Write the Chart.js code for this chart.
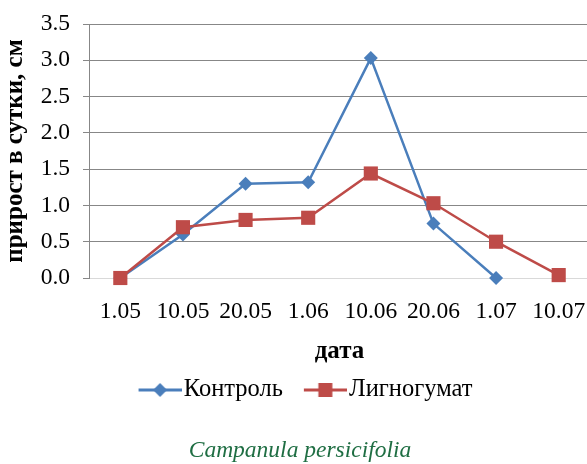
<!DOCTYPE html>
<html>
<head>
<meta charset="utf-8">
<script src="https://cdn.jsdelivr.net/npm/chart.js@4/dist/chart.umd.min.js"></script>
<style>
  html, body { margin: 0; padding: 0; background: #fff; overflow: hidden; }
</style>
</head>
<body>
<canvas id="c"></canvas>
<script>
// Daily growth, cm
const dates = ['1.05', '10.05', '20.05', '1.06', '10.06', '20.06', '1.07', '10.07'];
const control = [0, 0.6, 1.3, 1.32, 3.03, 0.75, 0, null];
const lignohumate = [0, 0.7, 0.8, 0.83, 1.44, 1.03, 0.5, 0.04];
const yTicks = [0, 0.5, 1, 1.5, 2, 2.5, 3, 3.5];

const BLUE = '#4a7ebb';
const RED = '#be4b48';
const GRID = '#878787';
const SERIF = '"Liberation Serif", "Times New Roman", serif';
const PLOT_RIGHT = 590; // plot area runs a little past the page edge

// Legend swatch: a short line with the series marker in its middle,
// placed in the right part of the image so it sits just before the label
function swatch(color, shape) {
  const c = document.createElement('canvas');
  c.width = 64; c.height = 16;
  const g = c.getContext('2d');
  g.strokeStyle = color; g.lineWidth = 3;
  g.beginPath(); g.moveTo(21, 8); g.lineTo(64, 8); g.stroke();
  g.fillStyle = color;
  const cx = 42.5;
  if (shape === 'diamond') {
    g.beginPath(); g.moveTo(cx, 1); g.lineTo(cx + 7, 8); g.lineTo(cx, 15); g.lineTo(cx - 7, 8); g.closePath(); g.fill();
  } else {
    g.fillRect(cx - 7, 1, 14, 14);
  }
  return c;
}

function makeConfig() {
  return {
    type: 'line',
    data: {
      labels: dates,
      datasets: [
        {
          label: 'Контроль',
          data: control,
          borderColor: BLUE,
          backgroundColor: BLUE,
          borderWidth: 2.5,
          pointStyle: 'rectRot',
          pointRadius: 7,
          pointBorderWidth: 0,
          clip: false,
          order: 1,
          legendSwatch: swatch(BLUE, 'diamond')
        },
        {
          label: 'Лигногумат',
          data: lignohumate,
          borderColor: RED,
          backgroundColor: RED,
          borderWidth: 2.5,
          pointStyle: 'rect',
          pointRadius: 10,
          pointBorderWidth: 0,
          clip: false,
          order: 0,
          legendSwatch: swatch(RED, 'square')
        }
      ]
    },
    options: {
      responsive: false,
      animation: false,
      devicePixelRatio: 1,
      layout: { padding: { top: 24, left: 0, right: 0, bottom: 0 } },
      scales: {
        x: {
          offset: true,
          afterFit: s => { s.paddingLeft = 0; s.paddingRight = 0; },
          grid: { display: false, drawTicks: false },
          border: { color: '#d9d9d9', width: 1 },
          ticks: { color: '#000', font: { family: SERIF, size: 23.5 }, padding: 20, maxRotation: 0, autoSkip: false },
          title: { display: true, text: 'дата', color: '#000', font: { family: SERIF, size: 25, weight: 'bold' }, padding: { top: -10, bottom: 1.5 } }
        },
        y: {
          min: 0,
          max: 3.5,
          afterBuildTicks: s => { s.ticks = yTicks.map(v => ({ value: v })); },
          afterFit: s => { s.width = 89; s.paddingTop = 0; s.paddingBottom = 0; s.paddingLeft = 0; s.paddingRight = 0; },
          grid: {
            color: c => (c.tick && c.tick.value === 0 ? '#d9d9d9' : GRID),
            tickColor: GRID,
            lineWidth: 1,
            tickLength: 6,
            drawTicks: true
          },
          border: { color: GRID, width: 1 },
          ticks: { color: '#000', font: { family: SERIF, size: 23.5 }, padding: 13, callback: v => Number(v).toFixed(1) },
          title: { display: true, text: 'прирост в сутки, см', color: '#000', font: { family: SERIF, size: 25, weight: 'bold' }, padding: { top: 1, bottom: 0 } }
        }
      },
      plugins: {
        legend: {
          position: 'bottom',
          labels: {
            color: '#000',
            font: { family: SERIF, size: 24.5 },
            usePointStyle: true,
            pointStyleWidth: 44,
            padding: 10,
            sort: (a, b) => a.datasetIndex - b.datasetIndex,
            generateLabels: chart => chart.data.datasets.map((ds, i) => ({
              text: ds.label,
              pointStyle: ds.legendSwatch,
              fillStyle: ds.borderColor,
              strokeStyle: ds.borderColor,
              lineWidth: 0,
              hidden: false,
              datasetIndex: i,
              fontColor: '#000'
            }))
          }
        },
        title: {
          display: true,
          position: 'bottom',
          text: 'Campanula persicifolia',
          color: '#1f6e43',
          font: { family: SERIF, size: 23.5, style: 'italic', weight: 'normal' },
          padding: { top: 24.85, bottom: -1.25 }
        },
        tooltip: { enabled: false }
      }
    }
  };
}

const canvas = document.getElementById('c');
function build(w) {
  canvas.width = w;
  canvas.height = 464;
  return new Chart(canvas, makeConfig());
}

// Size the canvas so the plot area ends at PLOT_RIGHT
let chart = build(595);
const dx = Math.round(PLOT_RIGHT - chart.chartArea.right);
if (dx !== 0) {
  chart.destroy();
  chart = build(595 + dx);
}
</script>
</body>
</html>
